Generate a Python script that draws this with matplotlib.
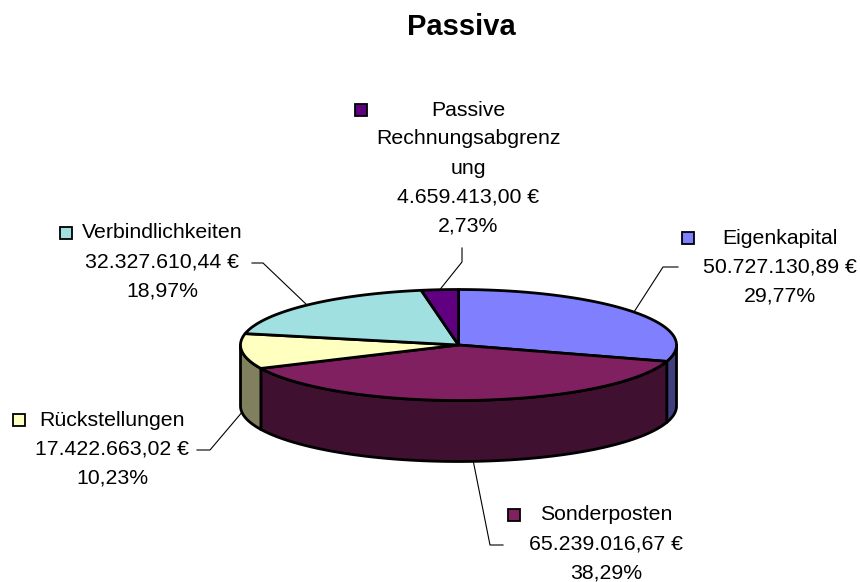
import numpy as np
import matplotlib.pyplot as plt
from matplotlib.patches import Polygon, Rectangle

plt.rcParams['font.family'] = ['Liberation Sans', 'DejaVu Sans']

# Passiva breakdown
categories = ['Eigenkapital', 'Sonderposten', 'Rückstellungen', 'Verbindlichkeiten',
              'Passive\nRechnungsabgrenz\nung']
values = [50727130.89, 65239016.67, 17422663.02, 32327610.44, 4659413.00]
top_colors = ['#8080FF', '#802060', '#FFFFC0', '#A0E0E0', '#600080']
side_colors = ['#40407F', '#401030', '#80805F', '#50706F', '#300040']

# label layout: text centre x, first line y, marker left x, leader elbow, leader end
label_pos = [
    (780, 238, 682, (663, 267), (678, 267)),
    (606, 515, 508, (490, 545), (503, 545)),
    (112, 420, 13, (210, 450), (197, 450)),
    (162, 233, 60, (263, 263), (252, 263)),
    (468, 110, 355, (462, 262), (462, 248)),
]

# ellipse geometry of the tilted pie (pixel units)
cx, cy, rx, ry, depth = 458.5, 345.0, 218.0, 55.5, 61.0


def euro(v):
    s = f"{v:,.2f}".replace(',', '#').replace('.', ',').replace('#', '.')
    return s + ' €'


def pct(p):
    return f"{p:.2f}%".replace('.', ',')


def arc(t0, t1, dy=0.0, n=80):
    t = np.radians(np.linspace(t0, t1, n))
    return np.column_stack([cx + rx * np.cos(t), cy - ry * np.sin(t) + dy])


fig = plt.figure(figsize=(8.6, 5.82), dpi=100)
ax = fig.add_axes([0, 0, 1, 1])
ax.set_xlim(0, 860)
ax.set_ylim(582, 0)
ax.axis('off')

total = sum(values)
fracs = [v / total for v in values]
starts = 90 - 360 * np.concatenate([[0], np.cumsum(fracs)[:-1]])
ends = starts - 360 * np.array(fracs)

# outer walls (front half only)
for t_s, t_e, col in zip(starts, ends, side_colors):
    hi, lo = min(t_s, 0), max(t_e, -180)
    if hi > lo:
        pts = np.vstack([arc(hi, lo), arc(lo, hi, depth)])
        ax.add_patch(Polygon(pts, closed=True, facecolor=col, edgecolor='black',
                             lw=2, joinstyle='round', zorder=2))

# top faces
for t_s, t_e, col in zip(starts, ends, top_colors):
    pts = np.vstack([[cx, cy], arc(t_s, t_e)])
    ax.add_patch(Polygon(pts, closed=True, facecolor=col, edgecolor='black',
                         lw=2, joinstyle='round', zorder=3))

# data labels with leader lines
for name, v, f, t_s, t_e, col, lp in zip(categories, values, fracs, starts, ends,
                                          top_colors, label_pos):
    tx, ty, mx, elbow, lend = lp
    mid = np.radians((t_s + t_e) / 2)
    ax_, ay_ = cx + rx * np.cos(mid), cy - ry * np.sin(mid)
    if np.sin(mid) < 0:
        ay_ += depth
    ax.plot([ax_, elbow[0], lend[0]], [ay_, elbow[1], lend[1]], color='black',
            lw=0.8, zorder=4)
    lines = name.split('\n') + [euro(v), pct(f * 100)]
    for i, line in enumerate(lines):
        ax.text(tx, ty + i * 29, line, ha='center', va='center', fontsize=15.3,
                color='black', zorder=5)
    ax.add_patch(Rectangle((mx, ty - 6), 12, 12, facecolor=col, edgecolor='black',
                           lw=1.3, zorder=5))

ax.text(461, 27, 'Passiva', ha='center', va='center', fontsize=21,
        fontweight='bold', color='black')

fig.savefig('out.png', dpi=100)
